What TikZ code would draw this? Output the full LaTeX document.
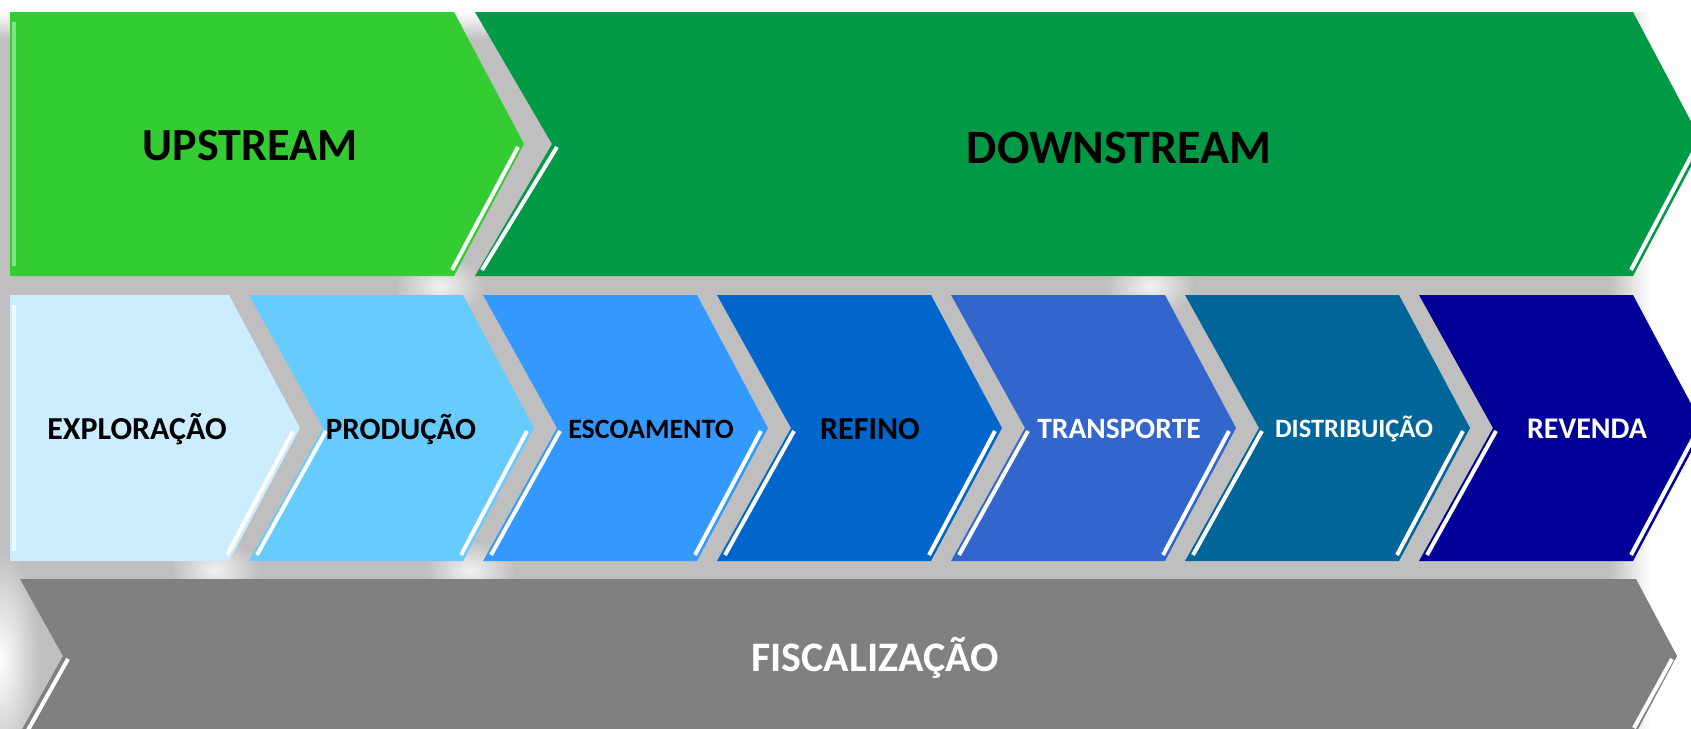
\documentclass[tikz,border=0pt]{standalone}
\usepackage{fontspec}
\setmainfont{Carlito}
\usepackage{tikz}

\definecolor{backgray}{HTML}{BFBFBF}
\definecolor{upgreen}{HTML}{33CC33}
\definecolor{downgreen}{HTML}{009A46}
\definecolor{fiscgray}{HTML}{808080}
\definecolor{stepa}{HTML}{CCECFF}
\definecolor{stepb}{HTML}{66CCFF}
\definecolor{stepc}{HTML}{3399FF}
\definecolor{stepd}{HTML}{0066CC}
\definecolor{stepe}{HTML}{3366CC}
\definecolor{stepf}{HTML}{006699}
\definecolor{stepg}{HTML}{000099}

\begin{document}
\begin{tikzpicture}[x=1pt, y=-1pt,
	stagetext/.style={font=\fontsize{#1}{#1}\selectfont\bfseries, inner sep=0pt},
	glint/.style={white, line width=4pt},
	glow/.style={inner color=white, outer color=backgray}]

\clip (0,0) rectangle (1691,728);

% backdrop
\fill[backgray] (0,40) rectangle (1610,728);
\shade[top color=white, bottom color=backgray] (0,12) rectangle (1610,40);
\shade[left color=backgray, right color=white] (1609,12) rectangle (1650,728);
\shade[glow] (0,660) ellipse (40 and 110);
\foreach \gx/\gy in {440/286, 215/570, 470/570, 1150/286}
	\shade[glow, opacity=0.8] (\gx,\gy) ellipse (45 and 30);

% top row
\fill[upgreen] (10,12) -- (454,12) -- (524,144) -- (454,276) -- (10,276) -- cycle;
\fill[downgreen] (475,12) -- (1633,12) -- (1703,144) -- (1633,276) -- (475,276) -- (552,144) -- cycle;
\draw[glint] (518,147) -- (452,270);
\draw[glint] (557,147) -- (482,270);
\draw[glint] (1696,147) -- (1631,270);
\draw[white, opacity=0.4, line width=4pt] (14,22) -- (14,266);
\node[stagetext=46] (upstream) at (250,146) {UPSTREAM};
\node[stagetext=48] (downstream) at (1119,148) {DOWNSTREAM};

% middle row
\fill[stepa] (10,295) -- (229,295) -- (300,428) -- (229,561) -- (10,561) -- cycle;
\draw[glint] (293,431) -- (227,555);
\draw[white, opacity=0.7, line width=4pt] (14,305) -- (14,551);
\node[stagetext=32] (exploracao) at (137,429) {EXPLORAÇÃO};

\foreach \col/\name/\txt/\tx/\tc/\fs [count=\i from 0] in {
		stepb/producao/PRODUÇÃO/401/black/31,
		stepc/escoamento/ESCOAMENTO/651/black/28,
		stepd/refino/REFINO/870/black/32,
		stepe/transporte/TRANSPORTE/1119/white/29.5,
		stepf/distribuicao/DISTRIBUIÇÃO/1354/white/26.5,
		stepg/revenda/REVENDA/1587/white/30}{
	\pgfmathsetmacro{\L}{249+234*\i}
	\fill[\col] (\L,295) -- (\L+214,295) -- (\L+285,428) -- (\L+214,561) -- (\L,561) -- (\L+74,428) -- cycle;
	\draw[glint] (\L+278,431) -- (\L+212,555);
	\draw[glint] (\L+77,431) -- (\L+8,555);
	\node[stagetext=\fs, text=\tc] (\name) at (\tx,429) {\txt};
}

% bottom row
\fill[fiscgray] (20,579) -- (1636,579) -- (1677,656) -- (1636,733) -- (20,733) -- (63,656) -- cycle;
\draw[glint] (68,659) -- (28,730);
\draw[glint] (1672,659) -- (1634,728);
\node[stagetext=42, text=white] (fiscalizacao) at (875,658) {FISCALIZAÇÃO};
\end{tikzpicture}
\end{document}
